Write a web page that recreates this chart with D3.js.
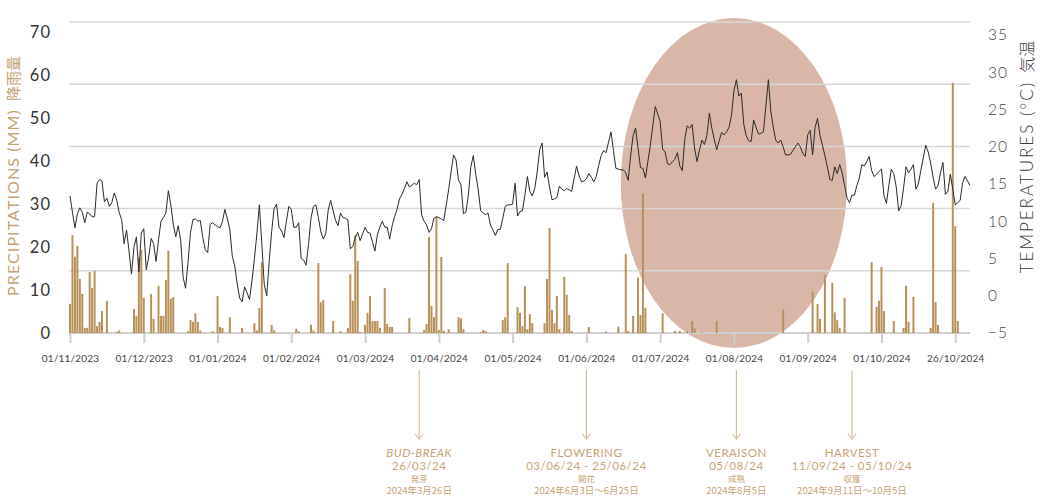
<!DOCTYPE html>
<html><head><meta charset="utf-8">
<script src="https://cdn.jsdelivr.net/npm/d3@7/dist/d3.min.js"></script>
<style>html,body{margin:0;padding:0;background:#fff;}svg{display:block;}</style>
</head><body>
<div id="chart"></div>
<script>
// ---- DATA ----
const tickLabels = ["01/11/2023","01/12/2023","01/01/2024","01/02/2024","01/03/2024","01/04/2024","01/05/2024","01/06/2024","01/07/2024","01/08/2024","01/09/2024","01/10/2024","26/10/2024"];
const tickIndex = [0,30,60,90,120,150,180,210,240,270,300,330,360];

const precipTicks = [0,10,20,30,40,50,60,70];
const tempTicks = [-5,0,5,10,15,20,25,30,35];

// daily precipitation (mm), 01/11/2023 onward
const precipitation = [
6.8,22.8,17.8,20.3,12.6,9.1,1.2,1.2,14.2,10.5,
14.5,1.6,2.6,5.1,0,7.5,0,0,0,0.3,
0.6,0,0,0,0,0,5.6,4.0,17.5,19.4,
8.2,0,0,9.1,3.3,0,11.0,4.0,4.0,12.4,
19.2,8.0,8.4,0,0,0,0,0,0.4,3.0,
2.6,4.6,2.6,0.6,0,0,0,0,0.4,0,
8.6,1.4,1.2,0,0,3.7,0,0,0,0,
1.2,0,0,0,0,2.3,0.6,5.8,16.5,0,
0,0,1.9,0.6,0,0,0,0,0,0,
0,0,1.0,0.4,0,0,0,0,1.9,0.6,
0,16.3,7.2,7.7,0,0,0,2.8,0,0,
0.4,0,0,1.2,13.7,7.5,22.8,16.8,0.2,0,
1.9,4.7,8.6,2.8,2.8,2.8,1.2,0,10.5,2.1,
1.4,1.4,0,0,0,0,0,0,3.5,0,
0,0,0,0,0.7,2.1,22.4,6.3,3.7,27.1,
0.7,17.7,0.5,0,0.9,0,0,0,3.7,3.4,
0.9,0,0,0,0,0,0,0.2,0.7,0.5,
0,0,0,0,0,0,3.0,3.7,16.3,0,
0,0,6.0,4.7,1.6,10.9,0.9,4.4,2.3,0,
0,0,0,2.3,12.6,24.5,5.4,2.3,8.6,0.9,
0,13.1,8.9,4.2,0.5,0,0,0,0,0,
0,1.4,0,0,0,0,0,0,0.3,0,
0,0,0,1.5,0,0,18.4,0.5,0,4.0,
0,12.9,4.2,32.6,5.9,0,0,0,0,0,
0,4.6,0,0,0,0,0.5,0,0.5,0,
0,0.5,0,2.8,1.0,0,0,0.2,0,0,
0,0,0,2.8,0,0,0,0,0,0,
0,0,0,0,0,0,0,0,0,0,
0,0,0,0,0,0,0,0,0,0,
5.4,0,0,0,0,0,0,0,0,0,
0,0,9.6,0,6.8,3.3,0,13.5,0,0,
11.7,4.8,3.0,1.2,0,8.2,0,0,0,0,
0,0,0,0,0,0,16.5,0,6.1,7.5,
15.4,5.1,0,0,0,2.8,0,0,0,1.2,
11.0,2.6,0,8.4,0,0,0,0,0,0,
1.2,30.3,7.2,1.9,0,0,0,0,0,58.3,
24.9,2.8,0,0,0,0,0
];

// daily mean temperature (°C)
const temperature = [
13.4,11.2,9.1,11.0,11.8,11.2,9.8,11.2,11.0,10.6,
10.6,15.1,15.6,15.4,12.6,13.1,12.0,12.5,13.8,12.8,
11.2,10.2,7.0,8.8,6.0,2.9,6.5,7.9,3.2,8.4,
9.0,3.5,5.2,7.7,7.0,4.6,7.5,10.0,10.5,11.1,
14.1,12.2,9.6,7.9,9.4,7.5,2.5,1.0,4.5,8.5,
10.2,10.3,10.0,10.1,7.8,6.2,5.8,9.6,9.8,9.5,
9.3,9.1,10.0,11.6,10.3,8.9,5.3,4.0,1.6,-0.3,
-0.8,1.2,0.4,-0.5,2.0,5.0,8.3,12.2,7.0,1.5,
0.0,4.6,8.6,11.7,12.3,9.2,8.7,7.8,10.0,12.0,
11.6,9.2,9.2,9.8,5.0,4.8,4.1,6.9,10.4,12.0,
12.2,10.5,8.6,7.6,8.3,11.5,12.8,11.4,10.1,9.4,
11.1,10.5,10.4,10.2,6.3,6.6,7.8,8.5,7.4,8.3,
9.2,8.5,8.4,7.2,6.0,8.2,9.2,10.0,9.2,9.2,
7.6,9.4,10.6,11.6,13.0,13.6,14.4,15.3,14.6,14.8,
15.1,14.9,15.6,10.8,10.0,9.5,8.5,9.0,10.4,10.6,
10.5,10.3,10.1,12.2,14.3,16.7,18.9,18.2,15.5,14.9,
11.0,11.2,13.5,17.3,18.8,16.3,14.3,11.4,11.1,10.9,
11.1,9.5,8.8,8.1,8.9,8.9,10.4,12.0,12.2,12.2,
12.3,15.1,10.7,11.3,11.4,13.5,16.0,14.0,13.4,14.4,
16.6,19.6,20.5,15.9,16.6,14.6,12.9,13.0,13.2,14.7,
14.3,14.1,14.4,14.2,14.0,15.7,17.4,16.1,15.3,15.4,
15.7,16.4,15.9,15.3,16.0,17.5,18.8,19.5,19.2,20.6,
22.0,19.5,17.1,17.0,16.9,16.9,16.5,15.5,18.8,21.5,
22.5,19.8,17.2,17.1,15.8,18.0,20.2,22.8,25.4,24.4,
23.4,19.7,19.3,17.7,17.6,18.0,18.3,19.2,17.4,16.8,
21.0,22.8,22.5,23.0,19.8,18.0,19.6,20.9,20.3,21.5,
24.5,22.5,21.0,19.6,20.8,21.9,21.6,22.0,22.6,24.2,
27.5,29.0,26.8,27.2,23.0,21.5,20.8,20.7,23.6,22.6,
21.7,21.8,22.0,25.5,29.0,24.8,22.6,20.9,20.5,20.9,
20.0,18.9,18.9,19.0,19.5,20.0,20.5,20.0,19.1,18.7,
21.6,22.2,18.9,22.6,23.8,21.5,20.2,18.8,17.3,15.6,
15.5,17.3,16.4,17.6,16.5,14.8,13.1,12.5,13.5,13.5,
14.8,15.8,17.6,17.4,18.0,18.7,16.8,16.0,16.3,16.7,
17.0,13.5,12.4,14.8,17.0,16.4,14.6,11.4,12.1,14.5,
17.3,16.5,17.0,17.6,14.3,15.0,16.8,18.5,20.2,19.3,
17.8,15.9,14.3,14.8,16.5,17.9,13.6,14.0,16.3,14.3,
12.2,12.5,12.8,15.2,16.0,15.4,14.8
];

// phenological stages (day index on the chart's axis)
const stageIndex = [142, 210, 271, 318];
const stageNames = ["BUD-BREAK","FLOWERING","VERAISON","HARVEST"];
const stageDates = ["26/03/24","03/06/24 - 25/06/24","05/08/24","11/09/24 - 05/10/24"];
const stageJa = ["発芽","開花","成熟","収獲"];
const stageJaDates = ["2024年3月26日","2024年6月3日〜6月25日","2024年8月5日","2024年9月11日〜10月5日"];
const stageItalic = [true,false,false,false];

// highlighted period (veraison) in day indices
const highlightStart = 224, highlightEnd = 316;

// ---- CHART ----
const W = 1042, H = 501;
const svg = d3.select("#chart").append("svg").attr("width", W).attr("height", H);

const x = d3.scaleLinear().domain([0, temperature.length - 1]).range([70, 970]);
const yP = d3.scaleLinear().domain([0, 70]).range([333, 32.7]);
const yT = d3.scaleLinear().domain([-5, 35]).range([333, 35]);
const yGrid = d3.scaleLinear().domain([0, 5]).range([333, 22]);

const tan = "#b99158";
const labelTan = "#c6a373";
const lightTan = "#d6bd99";

// highlight ellipse
const ex0 = x(highlightStart), ex1 = x(highlightEnd);
svg.append("ellipse")
  .attr("cx", (ex0 + ex1) / 2).attr("cy", 183)
  .attr("rx", (ex1 - ex0) / 2).attr("ry", 165)
  .attr("fill", "#d9b6a6");

// gridlines
svg.append("g").selectAll("line").data(d3.range(1, 6)).join("line")
  .attr("x1", 69).attr("x2", 970)
  .attr("y1", d => yGrid(d)).attr("y2", d => yGrid(d))
  .attr("stroke", "#d8d8d8").attr("stroke-width", 1.5);

// x axis
const xAxis = d3.axisBottom(x).tickValues(tickIndex)
  .tickFormat((d, i) => tickLabels[i]).tickSize(10).tickPadding(12);
const gx = svg.append("g").attr("transform", "translate(0,333)").call(xAxis);
gx.select(".domain").remove();
gx.selectAll(".tick line").attr("stroke", "#cfcfcf").attr("stroke-width", 2);
gx.selectAll(".tick text").attr("font-family", "Lato, 'DejaVu Sans', sans-serif")
  .attr("font-size", 10).attr("fill", "#444").attr("letter-spacing", 0.2);
svg.append("line").attr("x1", 69).attr("x2", 970).attr("y1", 333).attr("y2", 333)
  .attr("stroke", "#cfcfcf").attr("stroke-width", 2);

// bars
svg.append("g").selectAll("rect").data(precipitation).join("rect")
  .attr("x", (d, i) => x(i) - 1).attr("width", 2)
  .attr("y", d => yP(d)).attr("height", d => yP(0) - yP(d))
  .attr("fill", tan);

// temperature line
svg.append("path").datum(temperature)
  .attr("fill", "none").attr("stroke", "#2a2a2a").attr("stroke-width", 1)
  .attr("stroke-linejoin", "round")
  .attr("d", d3.line().x((d, i) => x(i)).y(d => yT(d)));

// left axis labels
const gl = svg.append("g").attr("transform", "translate(51,0)")
  .call(d3.axisLeft(yP).tickValues(precipTicks).tickSize(0).tickPadding(0));
gl.select(".domain").remove();
gl.selectAll("text").attr("font-family", "Lato, 'DejaVu Sans', sans-serif")
  .attr("font-size", 16.5).attr("fill", "#333").attr("letter-spacing", 1);

// right axis labels
const gr = svg.append("g").attr("transform", "translate(988,0)")
  .call(d3.axisRight(yT).tickValues(tempTicks).tickSize(0).tickPadding(0));
gr.select(".domain").remove();
gr.selectAll("text").attr("font-family", "Lato, 'DejaVu Sans', sans-serif")
  .attr("font-size", 15.5).attr("font-weight", 300).attr("fill", "#444").attr("letter-spacing", 1);

// axis titles
const lt = svg.append("text").attr("transform", "translate(19,176) rotate(-90)")
  .attr("text-anchor", "middle").attr("fill", labelTan)
  .attr("font-family", "Lato, sans-serif").attr("font-size", 16).attr("letter-spacing", 1.1);
lt.append("tspan").text("PRECIPITATIONS (MM)");
lt.append("tspan").attr("dx", 8).attr("font-family", "'Noto Sans CJK JP', sans-serif")
  .attr("letter-spacing", 0).attr("font-size", 15).text("降雨量");

const rt = svg.append("text").attr("transform", "translate(1033,157) rotate(-90)")
  .attr("text-anchor", "middle").attr("fill", "#3a3a3a")
  .attr("font-family", "Lato, sans-serif").attr("font-weight", 300).attr("font-size", 17).attr("letter-spacing", 2);
rt.append("tspan").text("TEMPERATURES (°C)");
rt.append("tspan").attr("dx", 8).attr("font-family", "'Noto Sans CJK JP', sans-serif")
  .attr("letter-spacing", 0).attr("font-size", 16).text("気温");

// stage annotations
const st = svg.append("g").selectAll("g").data(stageIndex).join("g")
  .attr("transform", d => `translate(${x(d)},0)`);
st.append("line").attr("y1", 370).attr("y2", 439)
  .attr("stroke", lightTan).attr("stroke-width", 1.2);
st.append("path").attr("d", "M-4,434 L0,439 L4,434").attr("fill", "none")
  .attr("stroke", lightTan).attr("stroke-width", 1.2);
st.append("text").attr("y", 457).attr("text-anchor", "middle")
  .attr("font-family", "Lato, sans-serif").attr("font-size", 11.5).attr("letter-spacing", 0.5)
  .attr("font-style", (d, i) => stageItalic[i] ? "italic" : "normal")
  .attr("fill", labelTan).text((d, i) => stageNames[i]);
st.append("text").attr("y", 470).attr("text-anchor", "middle")
  .attr("font-family", "Lato, sans-serif").attr("font-size", 11.5).attr("letter-spacing", 0.5)
  .attr("fill", labelTan).text((d, i) => stageDates[i]);
st.append("text").attr("y", 482).attr("text-anchor", "middle")
  .attr("font-family", "'Noto Sans CJK JP', sans-serif").attr("font-size", 8.5)
  .attr("fill", labelTan).text((d, i) => stageJa[i]);
st.append("text").attr("y", 494).attr("text-anchor", "middle")
  .attr("font-family", "'Noto Sans CJK JP', sans-serif").attr("font-size", 9.5)
  .attr("fill", labelTan).text((d, i) => stageJaDates[i]);
</script>
</body></html>
